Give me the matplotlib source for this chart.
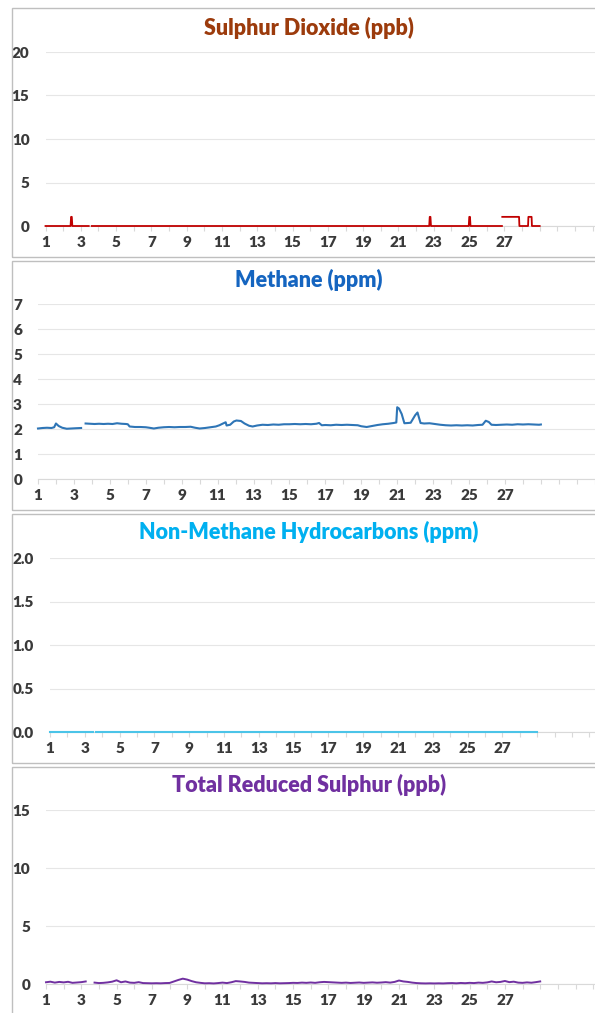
import numpy as np
import matplotlib
matplotlib.use("Agg")
import matplotlib.pyplot as plt
from matplotlib.patches import Rectangle

plt.rcParams['font.family'] = ['Lato', 'DejaVu Sans']

# ---- data ----
x_labels = ['1', '3', '5', '7', '9', '11', '13', '15', '17', '19', '21', '23', '25', '27']

# sulphur dioxide, ppb (mostly zero with a few short spikes)
so2_day = [1.0, 2.42, 2.45, 2.49, 2.52, 3.45, 3.50, 3.62, 22.74, 22.77, 22.81, 22.84,
           24.98, 25.01, 25.05, 25.08, 26.86, 26.87, 26.88, 27.83, 27.85, 28.05, 28.07,
           28.34, 28.36, 28.54, 28.56, 29.0]
so2_ppb = [0, 0, 1.05, 1.05, 0, 0, np.nan, 0, 0, 1.05, 1.05, 0,
           0, 1.05, 1.05, 0, 0, np.nan, 1.05, 1.05, 0, 0, 0,
           0, 1.05, 1.05, 0, 0]

# methane, ppm
ch4_day = [1.0, 1.25, 1.5, 1.75, 1.9, 2.0, 2.15, 2.35, 2.6, 2.85, 3.1, 3.4, 3.5,
           3.65, 3.9, 4.15, 4.4, 4.65, 4.9, 5.15, 5.4, 5.65, 5.9, 6.0, 6.1, 6.4,
           6.7, 7.0, 7.2, 7.45, 7.7, 8.0, 8.3, 8.6, 8.9, 9.2, 9.5, 9.75, 10.0,
           10.3, 10.6, 10.9, 11.1, 11.3, 11.45, 11.5, 11.7, 11.9, 12.05, 12.3,
           12.5, 12.75, 12.95, 13.2, 13.5, 13.8, 14.1, 14.4, 14.7, 15.0, 15.3,
           15.6, 15.9, 16.2, 16.5, 16.65, 16.8, 17.0, 17.3, 17.6, 17.9, 18.2,
           18.5, 18.8, 19.0, 19.3, 19.6, 19.9, 20.2, 20.5, 20.8, 20.95, 21.0,
           21.1, 21.25, 21.4, 21.6, 21.75, 22.0, 22.13, 22.3, 22.5, 22.8, 23.1,
           23.4, 23.7, 24.0, 24.3, 24.6, 24.9, 25.2, 25.5, 25.75, 25.93, 26.1,
           26.25, 26.5, 26.8, 27.1, 27.4, 27.7, 28.0, 28.3, 28.6, 28.9, 29.0]
ch4_ppm = [2.02, 2.04, 2.05, 2.04, 2.07, 2.22, 2.12, 2.05, 2.01, 2.02, 2.03, 2.04, np.nan,
           2.22, 2.21, 2.20, 2.21, 2.20, 2.21, 2.20, 2.23, 2.21, 2.20, 2.19, 2.10, 2.08,
           2.08, 2.07, 2.05, 2.02, 2.05, 2.07, 2.08, 2.07, 2.08, 2.08, 2.09, 2.05, 2.02,
           2.04, 2.07, 2.10, 2.15, 2.22, 2.27, 2.14, 2.17, 2.30, 2.34, 2.32,
           2.22, 2.13, 2.10, 2.14, 2.17, 2.16, 2.18, 2.17, 2.19, 2.19, 2.20,
           2.19, 2.20, 2.19, 2.21, 2.24, 2.15, 2.16, 2.15, 2.17, 2.16, 2.17,
           2.16, 2.15, 2.11, 2.08, 2.12, 2.16, 2.19, 2.21, 2.24, 2.26, 2.87,
           2.82, 2.60, 2.23, 2.24, 2.25, 2.55, 2.66, 2.24, 2.22, 2.23, 2.20,
           2.17, 2.15, 2.14, 2.15, 2.14, 2.15, 2.14, 2.16, 2.17, 2.33, 2.28,
           2.17, 2.16, 2.17, 2.18, 2.17, 2.19, 2.18, 2.19, 2.18, 2.17, 2.18]

# non-methane hydrocarbons, ppm (flat zero)
nmhc_day = [1.0, 3.45, 3.50, 3.62, 29.0]
nmhc_ppm = [0.0, 0.0, np.nan, 0.0, 0.0]

# total reduced sulphur, ppb (six-hourly)
trs_day = np.arange(1, 29.01, 0.25)
trs_ppb = [0.15, 0.20, 0.12, 0.18, 0.14, 0.19, 0.10, 0.13, 0.16, 0.22, np.nan, 0.12,
           0.08, 0.10, 0.14, 0.20, 0.32, 0.15, 0.22, 0.12, 0.10, 0.16, 0.08, 0.07,
           0.06, 0.07, 0.06, 0.08, 0.09, 0.22, 0.35, 0.46, 0.38, 0.25, 0.15, 0.10,
           0.06, 0.07, 0.05, 0.08, 0.12, 0.08, 0.15, 0.25, 0.22, 0.18, 0.12, 0.10,
           0.08, 0.06, 0.07, 0.06, 0.08, 0.06, 0.07, 0.08, 0.10, 0.09, 0.12, 0.10,
           0.13, 0.10, 0.15, 0.18, 0.16, 0.14, 0.12, 0.10, 0.12, 0.09, 0.11, 0.13,
           0.10, 0.12, 0.14, 0.11, 0.13, 0.16, 0.12, 0.18, 0.30, 0.22, 0.18, 0.12,
           0.08, 0.06, 0.05, 0.06, 0.05, 0.06, 0.05, 0.07, 0.08, 0.06, 0.09, 0.07,
           0.10, 0.08, 0.12, 0.10, 0.14, 0.22, 0.15, 0.18, 0.26, 0.16, 0.20, 0.12,
           0.10, 0.14, 0.11, 0.16, 0.22]

W, H = 595, 1013
fig = plt.figure(figsize=(W / 100, H / 100), dpi=100)

# panel boxes (px): top, bottom
boxes = [(8, 257), (261, 510), (514, 763), (767, 1020)]
for top, bot in boxes:
    fig.patches.append(Rectangle((12 / W, 1 - bot / H), (W + 20) / W, (bot - top) / H,
                                 transform=fig.transFigure, fill=False,
                                 edgecolor='#BFBFBF', linewidth=1.0))

# one dict per chart: position in px, scale, ticks, title and series
panels = [
    dict(left=45.5, y0=226, y1=52, ppd=17.65, ymax=20, yticks=[0, 5, 10, 15, 20], fmt='{:.0f}',
         title='Sulphur Dioxide (ppb)', ty=28, tcol='#9C3B0C', lcol='#C00000',
         x=so2_day, y=so2_ppb, lw=1.3),
    dict(left=38, y0=479, y1=304, ppd=17.96, ymax=7, yticks=list(range(8)), fmt='{:.0f}',
         title='Methane (ppm)', ty=280, tcol='#1565C0', lcol='#2E75B6',
         x=ch4_day, y=ch4_ppm, lw=1.5),
    dict(left=50, y0=732, y1=558, ppd=17.4, ymax=2, yticks=[0, 0.5, 1.0, 1.5, 2.0], fmt='{:.1f}',
         title='Non-Methane Hydrocarbons (ppm)', ty=532, tcol='#00B0F0', lcol='#4BC4E8',
         x=nmhc_day, y=nmhc_ppm, lw=1.5),
    dict(left=46, y0=984, y1=810, ppd=17.65, ymax=15, yticks=[0, 5, 10, 15], fmt='{:.0f}',
         title='Total Reduced Sulphur (ppb)', ty=785, tcol='#7030A0', lcol='#7030A0',
         x=trs_day, y=trs_ppb, lw=1.4),
]

tick_pos = list(range(1, 33))
tick_txt = [str(t) if str(t) in x_labels else '' for t in tick_pos]

for p in panels:
    ax = fig.add_axes([p['left'] / W, 1 - p['y0'] / H, (W - p['left']) / W, (p['y0'] - p['y1']) / H])
    ax.plot(p['x'], p['y'], color=p['lcol'], lw=p['lw'], clip_on=False, zorder=3)
    ax.set_xlim(1, 1 + (W - p['left']) / p['ppd'])
    ax.set_ylim(0, p['ymax'])
    ax.set_yticks(p['yticks'])
    ax.set_yticklabels([p['fmt'].format(v) for v in p['yticks']])
    ax.set_xticks(tick_pos)
    ax.set_xticklabels(tick_txt)
    for s in ['top', 'right', 'left']:
        ax.spines[s].set_visible(False)
    ax.spines['bottom'].set_color('#D9D9D9')
    ax.spines['bottom'].set_zorder(0)
    ax.grid(axis='y', color='#E6E6E6', lw=0.8)
    ax.set_axisbelow(True)
    ax.tick_params(axis='y', length=0, pad=11.5, labelsize=11, labelcolor='#3A3A3A')
    ax.tick_params(axis='x', length=3.5, color='#D9D9D9', pad=3.5, labelsize=11, labelcolor='#3A3A3A')
    for lab in ax.get_xticklabels() + ax.get_yticklabels():
        lab.set_fontweight('heavy')
    ax.patch.set_alpha(0)
    fig.text(309 / W, 1 - p['ty'] / H, p['title'], ha='center', va='center',
             fontsize=15.5, fontweight='heavy', color=p['tcol'])

fig.savefig('out.png', dpi=100)
